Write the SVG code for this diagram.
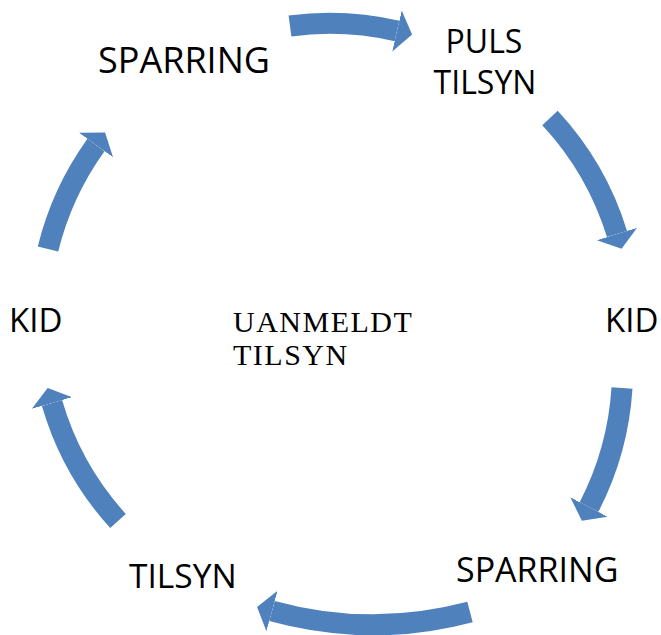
<svg xmlns="http://www.w3.org/2000/svg" width="661" height="635" viewBox="0 0 661 635">
<style>
.arc{fill:none;stroke:#4F81BD;stroke-width:21;stroke-linecap:butt;marker-end:url(#head)}
.lbl{font-family:"Open Sans","Noto Sans","DejaVu Sans",sans-serif;fill:#000}
.ctr{font-family:"Liberation Serif","Times New Roman",serif;font-size:30px;letter-spacing:1.5px;fill:#000}
</style>
<defs>
<marker id="head" markerUnits="userSpaceOnUse" viewBox="0 -22 16 44" refX="0" refY="0" markerWidth="16" markerHeight="44" orient="auto">
<path d="M0,-21 L15.5,0 L0,21 Z" fill="#4F81BD"/>
</marker>
</defs>
<rect width="661" height="635" fill="#fff"/>
<g id="connectors">
<path class="arc" d="M290,26 A300,300 0 0 1 397,31"/>
<path class="arc" d="M550,118 A300,300 0 0 1 617,234"/>
<path class="arc" d="M622,388 A300,300 0 0 1 589,507"/>
<path class="arc" d="M470,612 A380,380 0 0 1 272,611"/>
<path class="arc" d="M118,521 A300,300 0 0 1 52,403"/>
<path class="arc" d="M48,249 A300,300 0 0 1 96,145"/>
</g>
<g id="node-sparring-top"><text class="lbl" x="98" y="73" font-size="36">SPARRING</text></g>
<g id="node-puls-tilsyn"><text class="lbl" x="484" y="53" font-size="32" text-anchor="middle">PULS</text><text class="lbl" x="485" y="94" font-size="32" text-anchor="middle">TILSYN</text></g>
<g id="node-kid-right"><text class="lbl" x="605" y="332" font-size="33">KID</text></g>
<g id="node-sparring-bottom"><text class="lbl" x="456" y="582" font-size="34">SPARRING</text></g>
<g id="node-tilsyn-bottom"><text class="lbl" x="129" y="588" font-size="33.5">TILSYN</text></g>
<g id="node-kid-left"><text class="lbl" x="9" y="332" font-size="33">KID</text></g>
<g id="node-center"><text class="ctr" x="233" y="332">UANMELDT</text><text class="ctr" x="233" y="365">TILSYN</text></g>
</svg>
